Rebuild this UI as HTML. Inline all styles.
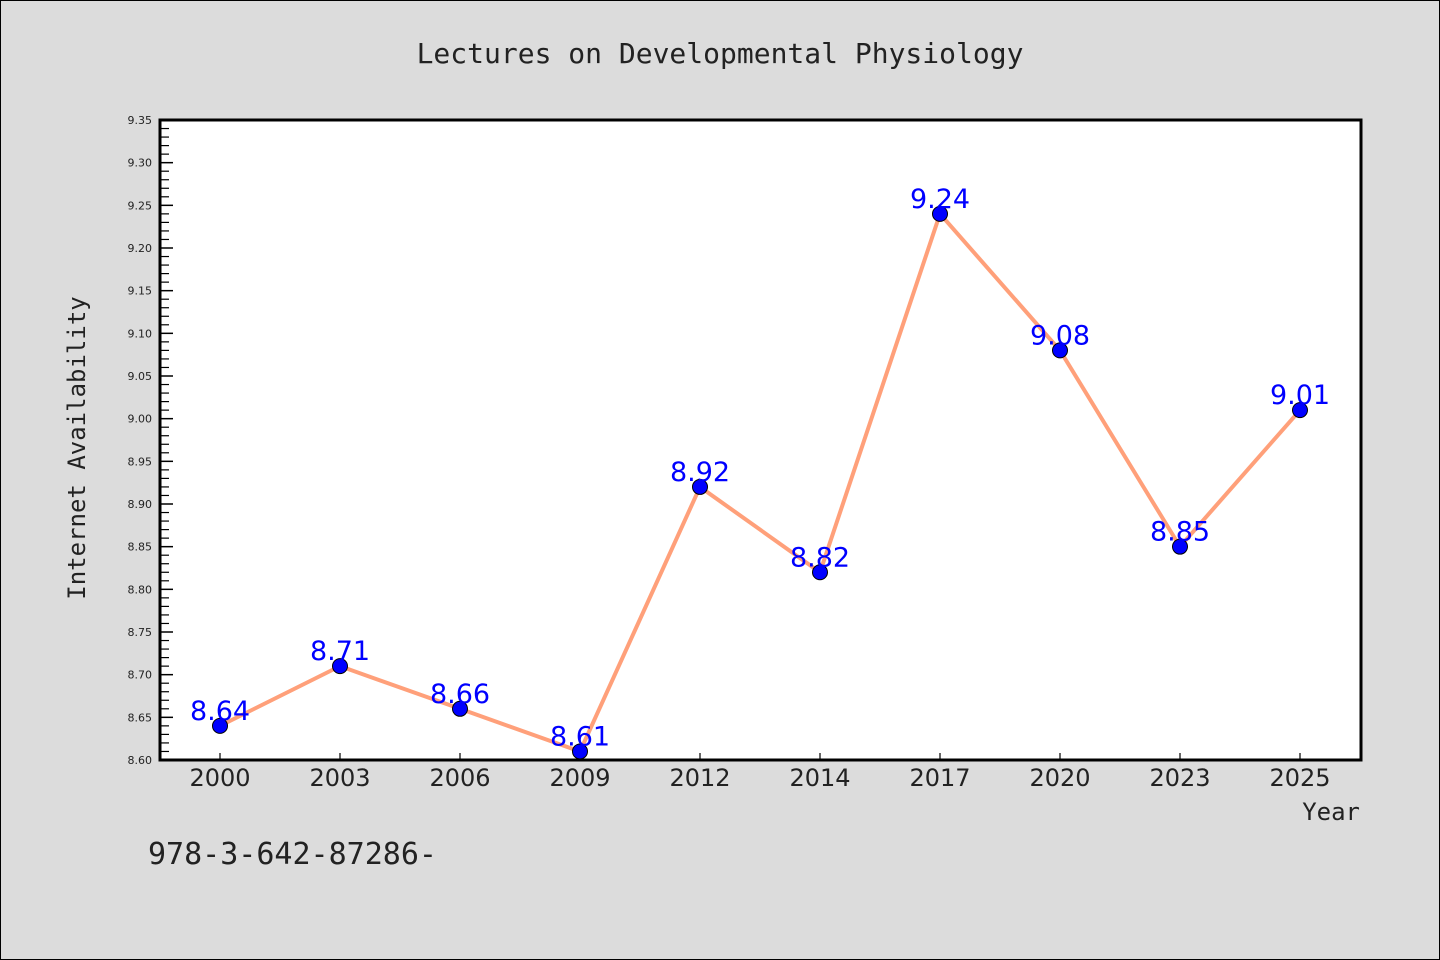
<!DOCTYPE html>
<html><head><meta charset="utf-8"><style>
body{margin:0;background:#dcdcdc;}
svg{display:block;}
</style></head><body>
<svg id="chart" width="1440" height="960" xmlns="http://www.w3.org/2000/svg">
<rect x="0.5" y="0.5" width="1439" height="959" fill="#dcdcdc" stroke="#000"/>
<text x="720" y="63" text-anchor="middle" font-family="DejaVu Sans Mono, Liberation Mono, monospace" font-size="28" fill="#222">Lectures on Developmental Physiology</text>
<rect x="160" y="120" width="1201" height="640" fill="#fff"/>
<g id="axes"></g>
<g id="series"></g>
<rect x="160" y="120" width="1201" height="640" fill="none" stroke="#000" stroke-width="3"/>
<text transform="translate(85,448) rotate(-90)" text-anchor="middle" font-family="DejaVu Sans Mono, Liberation Mono, monospace" font-size="24" fill="#222">Internet Availability</text>
<text x="1360" y="820" text-anchor="end" font-family="DejaVu Sans Mono, Liberation Mono, monospace" font-size="24" fill="#222">Year</text>
<text x="148" y="864" font-family="DejaVu Sans Mono, Liberation Mono, monospace" font-size="30" fill="#222">978-3-642-87286-</text>
</svg>
<script>
const categories=["2000","2003","2006","2009","2012","2014","2017","2020","2023","2025"];
const values=[8.64,8.71,8.66,8.61,8.92,8.82,9.24,9.08,8.85,9.01];
const yTicks=["8.60","8.65","8.70","8.75","8.80","8.85","8.90","8.95","9.00","9.05","9.10","9.15","9.20","9.25","9.30","9.35"];
const NS="http://www.w3.org/2000/svg";
const L=160,R=1361,T=120,B=760,yMin=8.60,yMax=9.35;
const y=v=>B-(v-yMin)/(yMax-yMin)*(B-T);
const x=i=>220+i*((1300-220)/(categories.length-1));
function mk(tag,attrs,parent){const e=document.createElementNS(NS,tag);for(const k in attrs)e.setAttribute(k,attrs[k]);parent.appendChild(e);return e;}
const axes=document.getElementById('axes'),series=document.getElementById('series');
yTicks.forEach((t,i)=>{
  const v=parseFloat(t),yy=y(v);
  const ln=mk('line',{x1:L,x2:L+13,y1:yy,y2:yy,stroke:'#000','stroke-width':1.5},axes);
  
  
  const tx=mk('text',{x:152,y:yy+4,'text-anchor':'end','font-family':'DejaVu Sans, sans-serif','font-size':11,fill:'#222'},axes);
  tx.textContent=t;
  
  
  if(i<yTicks.length-1){for(let k=1;k<5;k++){const yy2=y(v+0.01*k);
    const m=mk('line',{x1:L,x2:L+9,y1:yy2,y2:yy2,stroke:'#000','stroke-width':1.2},axes);
    
    }}
});
categories.forEach((c,i)=>{
  const xx=x(i);
  const tk=mk('line',{x1:xx,x2:xx,y1:B,y2:B-7,stroke:'#000','stroke-width':1.2},axes);
  
  
  const tx=mk('text',{x:xx,y:786,'text-anchor':'middle','font-family':'DejaVu Sans, sans-serif','font-size':24,fill:'#222'},axes);
  tx.textContent=c;
  
  
});
const pl=mk('polyline',{points:values.map((v,i)=>x(i)+','+y(v)).join(' '),fill:'none',stroke:'#ffa07a','stroke-width':4},series);


values.forEach((v,i)=>{
  const c=mk('circle',{cx:x(i),cy:y(v),r:7.5,fill:'#0000ff',stroke:'#000','stroke-width':1},series);
  
  
  const t=mk('text',{x:x(i),y:y(v)-6,'text-anchor':'middle','font-family':'DejaVu Sans, sans-serif','font-size':27,fill:'#0000ff'},series);
  t.textContent=v.toFixed(2);
  
  
});
</script>
</body></html>
